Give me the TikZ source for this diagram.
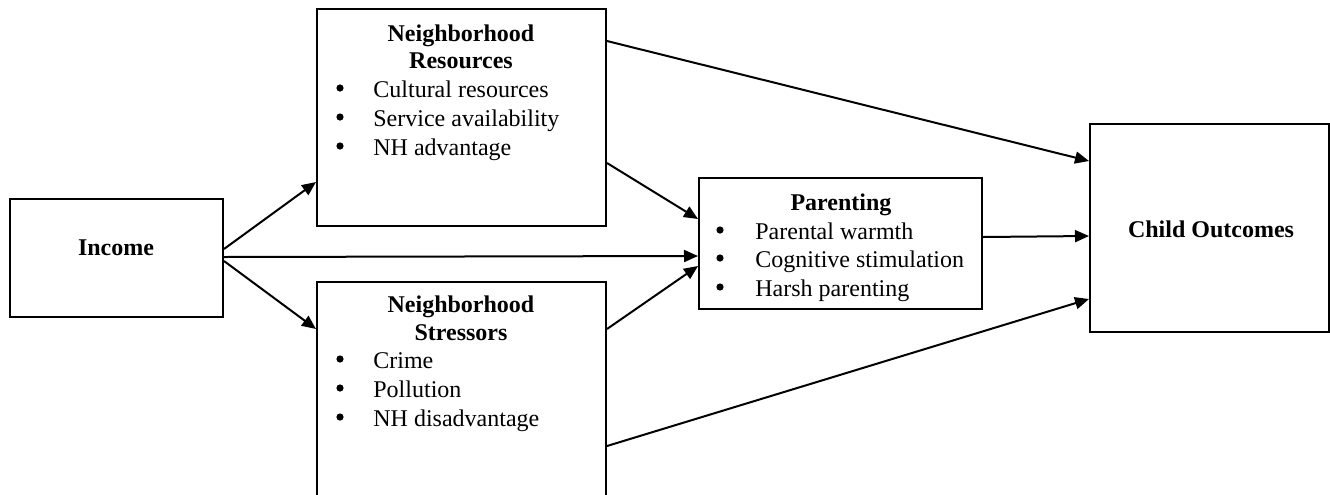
\documentclass[tikz,border=0pt]{standalone}
\usepackage{fontspec}
\setmainfont{Liberation Serif}
\usetikzlibrary{arrows.meta,fit,calc}
\begin{document}
\begin{tikzpicture}[x=0.5pt,y=-0.5pt,
  box/.style={draw, line width=1pt, inner sep=0pt},
  title/.style={font=\fontsize{12}{14}\selectfont\bfseries, anchor=base, inner sep=0pt},
  entry/.style={font=\fontsize{12}{14}\selectfont, anchor=base west, inner sep=0pt},
  dot/.style={circle, fill, inner sep=0pt, minimum size=3.6pt},
  link/.style={line width=1pt, -{Triangle[length=7pt,width=6pt]}}]
\clip (0,0) rectangle (1330,494);

% boxes
\node[box, fit={(10,199) (223,317)}] (inc) {};
\node[box, fit={(317,9) (606,226)}] (res) {};
\node[box, fit={(317,282) (606,530)}] (str) {};
\node[box, fit={(699,178) (982,309)}] (par) {};
\node[box, fit={(1090,124) (1329,332)}] (out) {};

% box texts
\node[title] (incT) at (116,255) {Income};
\node[title] (outT) at (1211,237) {Child Outcomes};

\node[title] (resT1) at (461,41) {Neighborhood};
\node[title] (resT2) at (461,68) {Resources};
\foreach \t/\y [count=\i] in {Cultural resources/97, Service availability/126, NH advantage/155}{
  \node[dot] (resB\i) at (340,\y-9) {};
  \node[entry] (resE\i) at (373,\y) {\t};
}

\node[title] (strT1) at (461,312) {Neighborhood};
\node[title] (strT2) at (461,340) {Stressors};
\foreach \t/\y [count=\i] in {Crime/368, Pollution/397, NH disadvantage/426}{
  \node[dot] (strB\i) at (340,\y-9) {};
  \node[entry] (strE\i) at (373,\y) {\t};
}

\node[title] (parT) at (841,210) {Parenting};
\foreach \t/\y [count=\i] in {Parental warmth/239, Cognitive stimulation/267, Harsh parenting/296}{
  \node[dot] (parB\i) at (720,\y-9) {};
  \node[entry] (parE\i) at (755,\y) {\t};
}

% paths
\draw[link] ($(inc.north east)+(0,51)$) -- ($(res.north west)+(0,174)$);
\draw[link] ($(inc.north east)+(0,59)$) -- ($(par.north west)+(0,79)$);
\draw[link] ($(inc.north east)+(0,63)$) -- ($(str.north west)+(0,48)$);
\draw[link] ($(res.north east)+(0,33)$) -- ($(out.north west)+(0,38)$);
\draw[link] ($(res.north east)+(0,155)$) -- ($(par.north west)+(0,42)$);
\draw[link] ($(str.north east)+(0,48)$) -- ($(par.north west)+(0,89)$);
\draw[link] ($(str.north east)+(0,165)$) -- ($(out.north west)+(0,176)$);
\draw[link] ($(par.north east)+(0,60)$) -- ($(out.north west)+(0,113)$);
\end{tikzpicture}
\end{document}
